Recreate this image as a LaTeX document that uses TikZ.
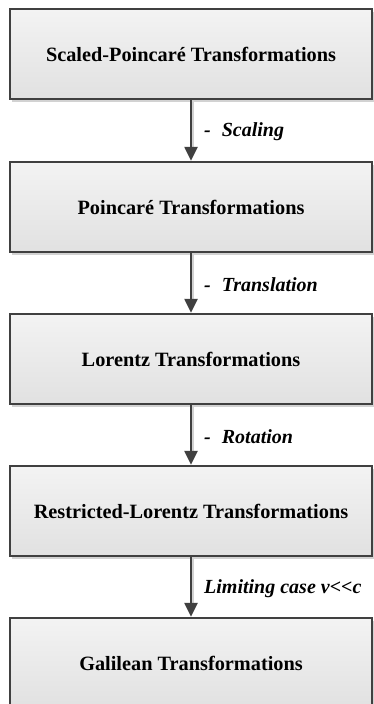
\documentclass[tikz,border=0pt]{standalone}
\usepackage{fontspec}
\setmainfont{Liberation Serif}[Ligatures=TeXOff]
\usetikzlibrary{arrows.meta,shadows}
\definecolor{edgegray}{HTML}{404040}
\definecolor{topfill}{HTML}{F3F3F3}
\definecolor{botfill}{HTML}{E1E1E1}
\definecolor{shadegray}{HTML}{D2D2D2}
\tikzset{
  stagebox/.style={draw=edgegray, line width=2.4pt, top color=topfill, bottom color=botfill,
    minimum width=362pt, minimum height=90pt, inner sep=0pt,
    font=\fontsize{20.3}{24}\selectfont\bfseries,
    drop shadow={shadow xshift=2pt, shadow yshift=-2.5pt, fill=shadegray, opacity=1}},
  flow/.style={draw=edgegray, line width=2.4pt, -{Triangle[width=13pt,length=14pt]}},
  flowshadow/.style={draw=shadegray, line width=2.4pt},
  steplabel/.style={anchor=west, inner sep=0pt, xshift=13pt, yshift=-1.5pt,
    font=\fontsize{20}{24}\selectfont\bfseries\itshape},
}
\begin{document}
\begin{tikzpicture}[x=1pt,y=-1pt]
\useasboundingbox (0,0) rectangle (374,704);
\node[stagebox] (b1) at (191,54)  {Scaled-Poincaré Transformations};
\node[stagebox] (b2) at (191,207) {Poincaré Transformations};
\node[stagebox] (b3) at (191,359) {Lorentz Transformations};
\node[stagebox] (b4) at (191,511) {Restricted-Lorentz Transformations};
\node[stagebox] (b5) at (191,663) {Galilean Transformations};
\foreach \a/\b in {b1/b2,b2/b3,b3/b4,b4/b5}{
  \draw[flowshadow] ([xshift=2pt]\a.south) -- ([xshift=2pt,yshift=8pt]\b.north);
  \draw[flow] (\a.south) -- (\b.north);
}
\path (b1.south) -- (b2.north) node[midway,steplabel] (l1) {-\hspace{11pt}Scaling};
\path (b2.south) -- (b3.north) node[midway,steplabel] (l2) {-\hspace{11pt}Translation};
\path (b3.south) -- (b4.north) node[midway,steplabel] (l3) {-\hspace{11pt}Rotation};
\path (b4.south) -- (b5.north) node[midway,steplabel] (l4) {Limiting case v<\kern0pt<c};
\end{tikzpicture}
\end{document}
